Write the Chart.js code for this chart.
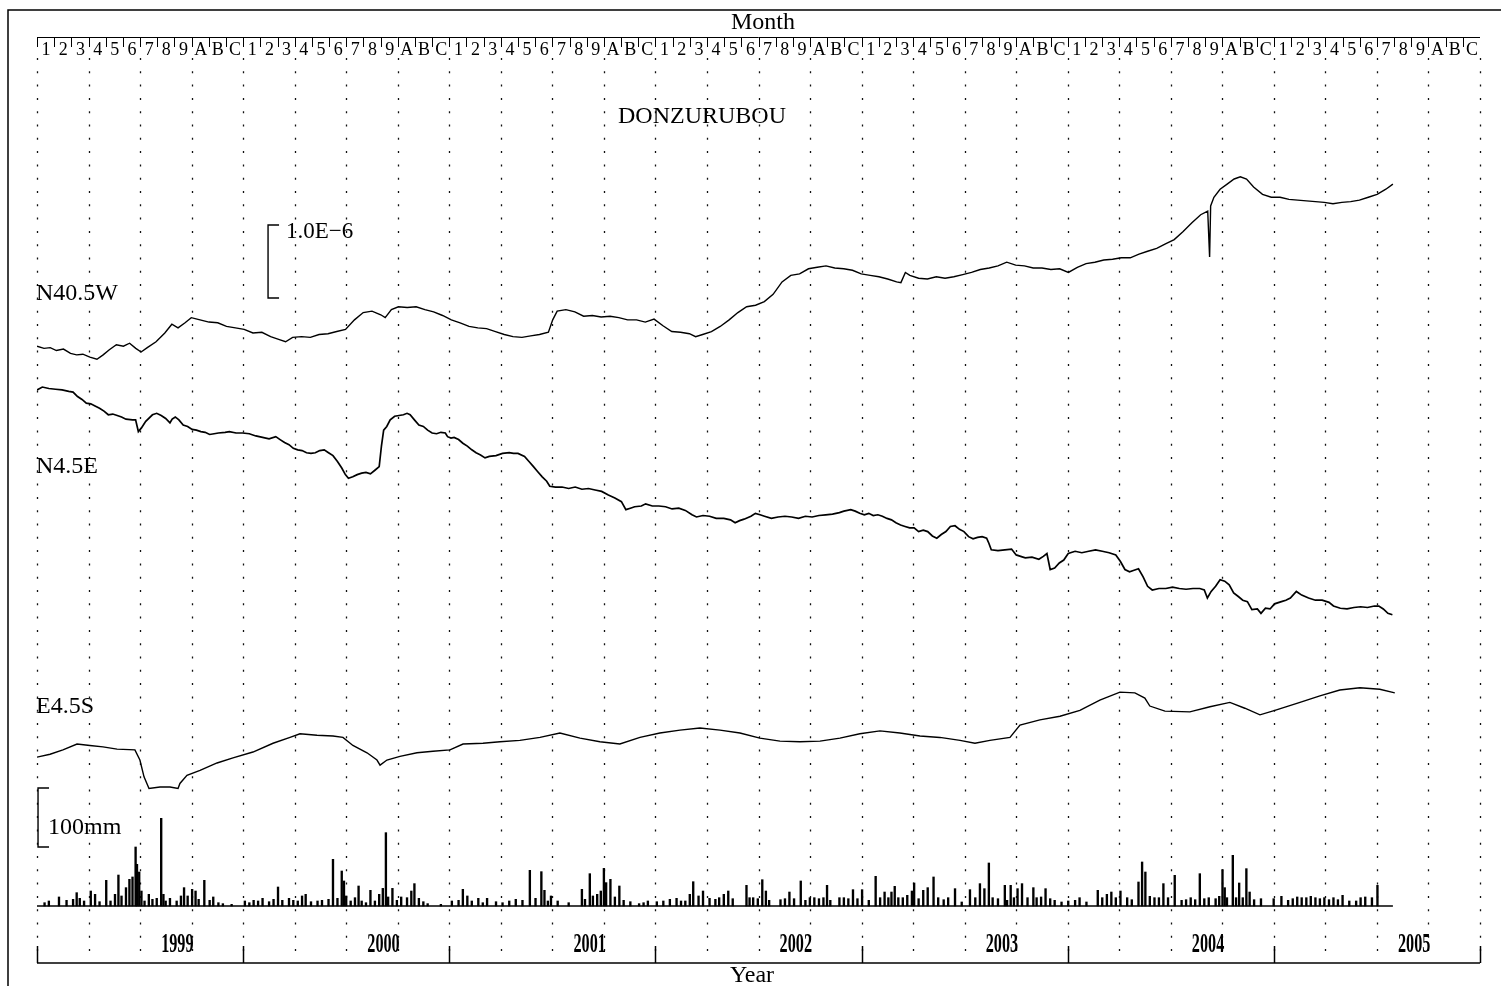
<!DOCTYPE html>
<html>
<head>
<meta charset="utf-8">
<title>DONZURUBOU</title>
<script src="https://cdn.jsdelivr.net/npm/chart.js@4.4.0/dist/chart.umd.min.js"></script>
<style>
	html, body { margin: 0; padding: 0; background: #fff; }
</style>
</head>
<body>
<canvas id="myChart" width="1501" height="986"></canvas>
<script>
// months counted from the start of the first year block (0 .. 84)
const monthLabels = ['1', '2', '3', '4', '5', '6', '7', '8', '9', 'A', 'B', 'C'];
const yearLabels = ['1999', '2000', '2001', '2002', '2003', '2004', '2005'];

// strain change, units of 1.0E-6
const n405wMonth = [0,0.41,0.77,1.13,1.54,1.95,2.31,2.67,3.08,3.49,3.85,4.21,4.62,5.03,5.39,5.75,6.06,6.42,6.93,7.44,7.85,8.21,8.62,8.98,9.49,10.01,10.52,11.03,11.55,12.06,12.57,13.09,13.6,14.11,14.47,14.88,15.4,15.91,16.42,16.94,17.45,17.96,18.48,18.99,19.5,20.01,20.27,20.63,21.04,21.55,22.07,22.58,23.09,23.61,24.12,24.63,25.15,25.66,26.17,26.69,27.2,27.71,28.23,28.74,29.25,29.77,30.02,30.28,30.79,31.31,31.82,32.33,32.84,33.36,33.87,34.38,34.9,35.41,35.92,36.44,36.95,37.46,37.98,38.34,38.75,39.26,39.77,40.29,40.8,41.31,41.83,42.34,42.85,43.37,43.88,44.39,44.91,45.42,45.93,46.44,46.96,47.47,47.98,48.5,49.01,49.52,50.04,50.29,50.55,50.81,51.32,51.83,52.35,52.86,53.37,53.89,54.4,54.91,55.43,55.94,56.45,56.97,57.48,57.99,58.5,59.02,59.53,60.04,60.56,61.07,61.58,62.1,62.61,63.12,63.64,64.15,64.65,65.18,65.69,66.2,66.72,67.23,67.74,68.15,68.26,68.32,68.51,68.87,69.28,69.69,70.05,70.41,70.82,71.34,71.85,72.36,72.88,73.39,73.9,74.42,74.93,75.44,75.96,76.47,76.98,77.5,78.01,78.52,78.93];
const n405wStrain = [-0.04,-0.07,-0.06,-0.10,-0.08,-0.14,-0.16,-0.15,-0.19,-0.22,-0.16,-0.09,-0.02,-0.04,0.00,-0.07,-0.12,-0.06,0.02,0.14,0.26,0.21,0.28,0.35,0.32,0.29,0.28,0.23,0.21,0.19,0.14,0.15,0.09,0.05,0.02,0.08,0.09,0.08,0.12,0.13,0.16,0.19,0.32,0.42,0.44,0.39,0.35,0.46,0.50,0.49,0.50,0.46,0.43,0.38,0.32,0.28,0.23,0.21,0.20,0.16,0.12,0.09,0.08,0.10,0.12,0.15,0.32,0.44,0.46,0.43,0.37,0.38,0.36,0.37,0.35,0.32,0.32,0.29,0.33,0.24,0.16,0.15,0.13,0.09,0.12,0.16,0.23,0.32,0.42,0.50,0.52,0.57,0.67,0.84,0.93,0.95,1.02,1.04,1.06,1.03,1.02,1.00,0.95,0.93,0.91,0.88,0.84,0.83,0.97,0.93,0.89,0.88,0.91,0.89,0.91,0.94,0.97,1.01,1.03,1.06,1.11,1.07,1.06,1.03,1.03,1.01,1.02,0.97,1.04,1.09,1.11,1.14,1.15,1.17,1.17,1.22,1.26,1.30,1.36,1.42,1.53,1.65,1.76,1.81,1.18,1.88,2.00,2.11,2.18,2.25,2.28,2.25,2.14,2.04,2.00,2.00,1.97,1.96,1.95,1.94,1.93,1.91,1.93,1.94,1.96,2.00,2.04,2.11,2.18];

const n45eMonth = [0,0.31,0.69,1.08,1.46,1.85,2.10,2.36,2.62,2.87,3.13,3.38,3.64,3.90,4.15,4.41,4.67,4.92,5.18,5.56,5.74,5.90,6.08,6.33,6.72,6.97,7.23,7.49,7.74,7.87,8.05,8.26,8.51,8.77,9.03,9.28,9.54,9.79,10.05,10.31,10.56,10.95,11.20,11.59,11.97,12.36,12.74,13.13,13.51,13.90,14.15,14.41,14.67,14.92,15.18,15.43,15.69,15.95,16.20,16.46,16.72,16.97,17.23,17.49,17.74,17.95,18.13,18.38,18.64,18.90,19.15,19.41,19.67,19.92,20.05,20.18,20.36,20.56,20.82,21.08,21.33,21.54,21.72,21.97,22.23,22.49,22.74,23.00,23.26,23.51,23.77,23.90,24.10,24.28,24.54,24.79,25.05,25.31,25.56,25.82,26.08,26.33,26.72,27.10,27.49,27.74,28.00,28.38,28.64,28.90,29.15,29.41,29.67,29.85,30.18,30.56,30.95,31.33,31.72,32.10,32.49,32.87,33.26,33.64,34.02,34.28,34.54,34.79,35.18,35.43,35.82,36.20,36.59,36.97,37.36,37.74,38.13,38.39,38.77,39.15,39.54,39.98,40.37,40.64,40.90,41.16,41.56,41.82,42.09,42.35,42.75,43.14,43.54,43.93,44.33,44.73,45.12,45.52,45.91,46.31,46.71,46.97,47.37,47.63,47.89,48.16,48.42,48.68,48.95,49.21,49.48,49.74,50.00,50.27,50.53,50.80,51.06,51.32,51.59,51.85,52.12,52.38,52.64,52.91,53.17,53.44,53.70,53.96,54.23,54.49,54.75,55.02,55.28,55.41,55.55,55.94,56.34,56.73,57.00,57.26,57.53,57.92,58.32,58.58,58.79,58.98,59.24,59.51,59.77,60.03,60.43,60.82,61.22,61.62,62.01,62.41,62.80,63.07,63.33,63.60,63.86,64.12,64.39,64.65,64.92,65.31,65.71,66.10,66.50,66.89,67.29,67.69,67.95,68.13,68.35,68.61,68.87,69.14,69.40,69.66,69.93,70.19,70.46,70.72,71.04,71.25,71.51,71.78,72.04,72.44,72.70,72.96,73.31,73.62,74.02,74.42,74.81,75.21,75.47,75.87,76.26,76.66,77.05,77.45,77.85,78.11,78.37,78.64,78.90];
const n45eStrain = [-0.03,0.01,-0.01,-0.02,-0.03,-0.05,-0.06,-0.12,-0.16,-0.21,-0.22,-0.25,-0.28,-0.32,-0.37,-0.36,-0.38,-0.40,-0.43,-0.44,-0.44,-0.60,-0.55,-0.46,-0.37,-0.35,-0.38,-0.42,-0.48,-0.43,-0.40,-0.44,-0.51,-0.53,-0.57,-0.58,-0.60,-0.61,-0.64,-0.63,-0.62,-0.61,-0.60,-0.62,-0.62,-0.63,-0.66,-0.68,-0.70,-0.67,-0.71,-0.75,-0.78,-0.83,-0.85,-0.86,-0.89,-0.90,-0.89,-0.86,-0.85,-0.89,-0.93,-1.01,-1.10,-1.19,-1.24,-1.22,-1.19,-1.17,-1.16,-1.18,-1.13,-1.08,-0.80,-0.58,-0.53,-0.44,-0.39,-0.38,-0.37,-0.35,-0.37,-0.44,-0.51,-0.53,-0.58,-0.62,-0.63,-0.61,-0.62,-0.67,-0.69,-0.68,-0.71,-0.76,-0.80,-0.85,-0.89,-0.92,-0.96,-0.94,-0.93,-0.90,-0.89,-0.90,-0.90,-0.94,-1.01,-1.08,-1.15,-1.22,-1.28,-1.35,-1.36,-1.36,-1.38,-1.36,-1.39,-1.38,-1.40,-1.42,-1.47,-1.51,-1.56,-1.67,-1.65,-1.63,-1.62,-1.59,-1.62,-1.62,-1.63,-1.66,-1.65,-1.68,-1.74,-1.77,-1.75,-1.76,-1.79,-1.79,-1.81,-1.85,-1.82,-1.80,-1.76,-1.72,-1.74,-1.76,-1.79,-1.77,-1.76,-1.77,-1.79,-1.76,-1.77,-1.75,-1.74,-1.73,-1.71,-1.69,-1.67,-1.69,-1.72,-1.74,-1.72,-1.75,-1.74,-1.76,-1.79,-1.81,-1.85,-1.88,-1.90,-1.92,-1.92,-1.97,-1.95,-1.97,-2.03,-2.06,-2.01,-1.97,-1.90,-1.89,-1.94,-1.97,-2.04,-2.07,-2.05,-2.04,-2.06,-2.13,-2.22,-2.23,-2.22,-2.21,-2.29,-2.31,-2.33,-2.32,-2.35,-2.31,-2.27,-2.49,-2.47,-2.40,-2.36,-2.27,-2.24,-2.26,-2.24,-2.22,-2.24,-2.26,-2.29,-2.38,-2.49,-2.52,-2.50,-2.48,-2.59,-2.72,-2.77,-2.75,-2.75,-2.73,-2.75,-2.76,-2.75,-2.75,-2.77,-2.88,-2.79,-2.72,-2.63,-2.65,-2.70,-2.81,-2.86,-2.91,-2.93,-3.04,-3.03,-3.09,-3.02,-3.03,-2.96,-2.93,-2.91,-2.88,-2.79,-2.84,-2.88,-2.91,-2.91,-2.94,-2.99,-3.02,-3.03,-3.01,-3.00,-3.01,-2.99,-2.99,-3.03,-3.09,-3.11];

const e45sMonth = [0,0.76,1.51,2.33,3.08,3.84,4.66,5.70,5.99,6.23,6.52,7.16,7.74,8.21,8.32,8.73,9.49,10.48,11.41,12.57,13.74,14.73,15.31,16.30,17.23,17.81,18.39,19.21,19.79,19.97,20.37,21.13,22.12,23.05,24.04,24.80,25.96,26.95,28.11,29.28,30.44,31.61,32.77,33.93,35.10,36.26,37.43,38.59,39.76,40.92,42.08,43.25,44.41,45.58,46.74,47.90,49.07,50.23,51.40,52.56,53.73,54.60,55.47,56.64,57.22,58.38,59.55,60.71,61.87,63.04,63.91,64.49,64.78,65.66,67.11,68.28,69.44,70.31,71.19,72.06,73.52,74.68,75.84,77.01,78.17,79.04];
const e45sStrain = [0,0.04,0.10,0.18,0.16,0.14,0.11,0.10,-0.04,-0.27,-0.43,-0.41,-0.41,-0.43,-0.36,-0.25,-0.18,-0.08,-0.01,0.07,0.19,0.27,0.32,0.30,0.29,0.27,0.16,0.06,-0.04,-0.11,-0.04,0.01,0.06,0.08,0.10,0.18,0.19,0.21,0.23,0.27,0.33,0.26,0.21,0.18,0.27,0.33,0.37,0.40,0.37,0.33,0.26,0.22,0.21,0.22,0.26,0.32,0.36,0.33,0.29,0.27,0.23,0.19,0.23,0.27,0.44,0.51,0.56,0.64,0.78,0.89,0.88,0.81,0.70,0.63,0.62,0.69,0.75,0.67,0.58,0.64,0.75,0.84,0.92,0.95,0.93,0.88];

// daily rainfall, mm
const rainMonth = [0.44,0.69,1.28,1.72,2.10,2.31,2.49,2.74,3.13,3.38,3.64,4.03,4.28,4.54,4.74,4.92,5.18,5.38,5.56,5.74,5.82,5.95,6.08,6.26,6.51,6.72,6.97,7.23,7.36,7.49,7.74,8.13,8.38,8.56,8.77,9.03,9.23,9.41,9.74,10.05,10.26,10.56,10.82,11.33,12.10,12.36,12.61,12.87,13.13,13.51,13.77,14.03,14.28,14.67,14.92,15.18,15.43,15.64,15.95,16.33,16.59,16.97,17.23,17.49,17.74,17.87,18.00,18.26,18.51,18.72,18.90,19.15,19.41,19.67,19.92,20.13,20.31,20.44,20.69,20.95,21.20,21.54,21.79,21.97,22.23,22.49,22.74,23.51,24.15,24.54,24.79,25.05,25.31,25.69,25.95,26.20,26.72,27.10,27.49,27.87,28.26,28.69,29.02,29.36,29.54,29.74,29.92,30.31,30.95,31.72,31.90,32.18,32.36,32.61,32.82,33.00,33.13,33.38,33.64,33.90,34.15,34.54,35.05,35.31,35.56,36.08,36.46,36.84,37.23,37.49,37.74,38.00,38.20,38.51,38.77,39.15,39.49,39.71,39.98,40.24,40.50,41.30,41.48,41.69,41.96,42.22,42.43,42.62,43.28,43.54,43.80,44.07,44.46,44.73,44.99,45.25,45.52,45.78,45.99,46.18,46.71,46.97,47.23,47.50,47.76,48.03,48.42,48.82,49.08,49.34,49.56,49.74,49.93,50.14,50.40,50.66,50.93,51.06,51.32,51.59,51.85,52.19,52.46,52.78,53.04,53.44,53.83,54.31,54.62,54.89,55.15,55.41,55.63,55.94,56.34,56.47,56.68,56.87,57.08,57.34,57.66,58.00,58.19,58.45,58.71,58.98,59.24,59.64,60.03,60.43,60.69,61.09,61.75,62.01,62.28,62.54,62.80,63.07,63.46,63.73,64.12,64.33,64.52,64.78,65.05,65.31,65.57,65.84,66.23,66.63,66.89,67.16,67.42,67.69,67.95,68.21,68.61,68.82,69.01,69.14,69.27,69.61,69.80,69.98,70.19,70.40,70.59,70.85,71.25,71.99,72.44,72.83,73.10,73.36,73.62,73.89,74.15,74.42,74.68,74.94,75.21,75.47,75.73,76.00,76.39,76.79,77.05,77.32,77.71,78.03];
const rainMm = [5.6,8.5,15.3,9.6,11.3,22.6,13.0,8.5,25.4,19.8,7.3,43.5,8.5,19.8,52.5,17.0,31.1,45.2,49.2,100.0,70.6,57.6,25.4,8.5,19.8,11.3,13.0,148.6,19.8,8.5,13.0,8.5,17.0,31.1,17.0,28.3,25.4,11.3,43.5,9.6,15.3,5.6,4.0,2.8,8.5,5.6,9.6,8.5,13.0,7.3,11.3,32.2,9.6,13.0,9.6,8.5,17.0,19.8,7.3,8.5,9.6,11.3,79.1,13.0,59.3,42.4,17.0,8.5,14.1,33.9,8.5,5.6,26.6,8.5,19.8,29.9,124.3,15.3,29.9,9.6,15.3,14.1,25.4,37.9,13.0,7.3,4.0,2.8,8.5,9.6,28.3,17.0,8.5,13.0,5.6,13.0,7.3,5.6,8.5,11.3,9.6,60.5,13.0,58.2,26.6,8.5,17.0,8.5,5.6,28.3,11.3,54.8,17.0,19.8,25.4,63.8,39.6,45.2,15.3,33.9,9.6,7.3,4.0,5.6,8.5,7.3,8.5,11.3,13.0,8.5,8.5,19.8,41.2,17.0,25.4,13.0,11.3,14.1,19.8,25.4,12.4,35.0,14.1,14.1,12.4,44.6,25.4,9.6,10.7,12.4,23.7,12.4,42.4,9.6,14.1,14.1,12.4,14.1,35.0,9.6,14.1,14.1,12.4,27.7,12.4,27.7,9.6,50.3,14.1,23.7,14.1,23.7,33.3,14.1,14.1,18.1,25.4,39.0,12.4,26.6,31.1,49.2,14.1,10.7,14.1,29.4,6.8,27.7,14.1,37.9,29.4,72.9,14.1,12.4,35.0,9.6,35.0,14.1,29.4,37.9,14.1,31.1,14.1,15.3,29.4,12.4,9.6,6.8,8.5,9.6,14.1,6.8,26.6,14.1,19.8,23.7,14.1,25.4,14.1,10.7,40.7,74.6,57.6,16.4,14.1,14.1,37.9,14.1,52.0,9.6,10.7,14.1,10.7,54.8,12.4,14.1,12.4,16.4,61.6,31.1,14.1,85.9,14.1,39.0,14.1,63.3,23.7,10.7,12.4,12.4,16.4,9.6,12.4,15.3,14.1,14.1,16.4,14.1,12.4,14.1,10.7,14.1,10.7,18.1,8.5,8.5,14.1,15.3,14.1,35.0];

// layout: where each trace sits on the shared strain axis (units of 1.0E-6)
const traceBase = { n405w: 8.49, n45e: 7.88, e45s: 2.82 };
const STRAIN_PX = 73;   // px per 1.0E-6
const RAIN_PX = 0.59;   // px per mm
const SERIF = '"Liberation Serif", "Times New Roman", serif';

const pts = function (xs, ys, base) {
	return xs.map((m, i) => ({ x: m, y: ys[i] + (base || 0) }));
};

const chrome = {
	id: 'chrome',
	beforeDraw(chart) {
		const { ctx, chartArea: a, scales } = chart;
		const x = scales.x;
		ctx.save();
		ctx.fillStyle = '#fff';
		ctx.fillRect(0, 0, chart.width, chart.height);
		ctx.strokeStyle = '#000';
		ctx.fillStyle = '#000';
		// outer frame
		ctx.lineWidth = 1.5;
		ctx.beginPath();
		ctx.moveTo(8, chart.height);
		ctx.lineTo(8, 10);
		ctx.lineTo(chart.width, 10);
		ctx.stroke();
		// month strip
		ctx.lineWidth = 1;
		ctx.beginPath();
		ctx.moveTo(x.getPixelForValue(0), a.top + 0.5);
		ctx.lineTo(x.getPixelForValue(84), a.top + 0.5);
		ctx.stroke();
		ctx.font = '18px ' + SERIF;
		ctx.textAlign = 'center';
		ctx.textBaseline = 'alphabetic';
		for (let i = 0; i < 84; i++) {
			const px = Math.round(x.getPixelForValue(i)) + 0.5;
			ctx.beginPath();
			ctx.moveTo(px, a.top);
			ctx.lineTo(px, a.top + 10);
			ctx.stroke();
			ctx.fillText(monthLabels[i % 12], x.getPixelForValue(i + 0.5) + 0.5, a.top + 18);
		}
		// quarter dotted lines
		ctx.lineWidth = 1.3;
		ctx.strokeStyle = '#111';
		ctx.setLineDash([2, 11.3]);
		for (let q = 0; q <= 28; q++) {
			const px = Math.round(x.getPixelForValue(q * 3)) + 0.5;
			ctx.beginPath();
			ctx.moveTo(px, a.top + 21);
			ctx.lineTo(px, a.bottom - 4);
			ctx.stroke();
		}
		ctx.setLineDash([]);
		ctx.strokeStyle = '#000';
		// year axis
		ctx.lineWidth = 1.5;
		ctx.beginPath();
		ctx.moveTo(x.getPixelForValue(0), a.bottom);
		ctx.lineTo(x.getPixelForValue(84), a.bottom);
		ctx.stroke();
		for (let k = 0; k <= 7; k++) {
			const px = Math.round(x.getPixelForValue(k * 12)) + 0.5;
			ctx.beginPath();
			ctx.moveTo(px, a.bottom - 17);
			ctx.lineTo(px, a.bottom);
			ctx.stroke();
		}
		ctx.font = 'bold 27px ' + SERIF;
		for (let k = 0; k < yearLabels.length; k++) {
			ctx.save();
			ctx.translate(x.getPixelForValue(k * 12 + 8.17), 952);
			ctx.scale(0.6, 1);
			ctx.fillText(yearLabels[k], 0, 0);
			ctx.restore();
		}
		ctx.restore();
	},
	afterDatasetsDraw(chart) {
		const { ctx, scales } = chart;
		const x = scales.x, ys = scales.ys, yr = scales.yr;
		ctx.save();
		ctx.strokeStyle = '#000';
		ctx.fillStyle = '#000';
		// rain baseline
		ctx.lineWidth = 1.5;
		const yb = yr.getPixelForValue(0);
		ctx.beginPath();
		ctx.moveTo(x.getPixelForValue(0), yb);
		ctx.lineTo(x.getPixelForValue(n405wMonth[n405wMonth.length - 1]), yb);
		ctx.stroke();
		// scale brackets
		const bracket = function (px, top, bot) {
			ctx.beginPath();
			ctx.moveTo(px + 11, top);
			ctx.lineTo(px, top);
			ctx.lineTo(px, bot);
			ctx.lineTo(px + 11, bot);
			ctx.stroke();
		};
		ctx.lineWidth = 1.4;
		bracket(x.getPixelForValue(13.45), ys.getPixelForValue(10.11), ys.getPixelForValue(9.11));
		bracket(x.getPixelForValue(0.06), yr.getPixelForValue(200), yr.getPixelForValue(100));
		// texts
		ctx.textBaseline = 'middle';
		ctx.textAlign = 'left';
		ctx.font = '24px ' + SERIF;
		ctx.fillText('N40.5W', 36, 294);
		ctx.fillText('N4.5E', 36, 467);
		ctx.fillText('E4.5S', 36, 707);
		ctx.fillText('100mm', 48, 828);
		ctx.font = '23px ' + SERIF;
		ctx.fillText('1.0E\u22126', 286, 232);
		ctx.textAlign = 'center';
		ctx.font = '24px ' + SERIF;
		ctx.fillText('DONZURUBOU', 702, 117);
		ctx.fillText('Month', 763, 23);
		ctx.fillText('Year', 752, 976);
		ctx.restore();
	},
};

const createChart = function () {
	const lineStyle = {
		type: 'line',
		borderColor: '#000',
		borderWidth: 1.4,
		pointRadius: 0,
		tension: 0,
		fill: false,
		yAxisID: 'ys',
	};
	const data = {
		datasets: [
			Object.assign({ label: 'N40.5W', data: pts(n405wMonth, n405wStrain, traceBase.n405w) }, lineStyle),
			Object.assign({ label: 'N4.5E', data: pts(n45eMonth, n45eStrain, traceBase.n45e) }, lineStyle, { borderWidth: 1.7 }),
			Object.assign({ label: 'E4.5S', data: pts(e45sMonth, e45sStrain, traceBase.e45s) }, lineStyle),
			{
				type: 'bar',
				label: 'Rainfall',
				data: pts(rainMonth, rainMm),
				backgroundColor: '#000',
				borderWidth: 0,
				barThickness: 1.7,
				grouped: false,
				yAxisID: 'yr',
			},
		],
	};
	const plotH = 986 - 37 - 23;
	const config = {
		type: 'line',
		data: data,
		options: {
			responsive: false,
			animation: false,
			devicePixelRatio: 1,
			events: [],
			layout: { padding: { left: 37, top: 37, right: 21, bottom: 23 } },
			plugins: { legend: { display: false }, tooltip: { enabled: false } },
			scales: {
				x: { type: 'linear', min: 0, max: 84, offset: false, display: false },
				ys: { type: 'linear', min: 0, max: plotH / STRAIN_PX, display: false },
				yr: { type: 'linear', min: -57 / RAIN_PX, max: (plotH - 57) / RAIN_PX, display: false },
			},
		},
		plugins: [chrome],
	};
	const ctx = document.getElementById('myChart');
	new Chart(ctx, config);
};

document.addEventListener('DOMContentLoaded', createChart);
</script>
</body>
</html>
